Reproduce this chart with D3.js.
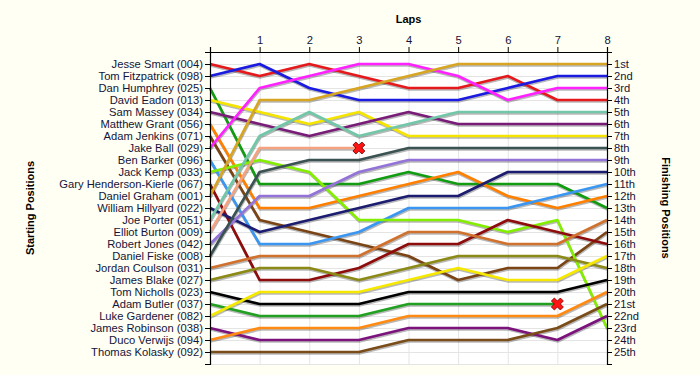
<!DOCTYPE html>
<html>
<head>
<meta charset="utf-8">
<script src="https://d3js.org/d3.v7.min.js"></script>
<style>
  body { margin: 0; background: #fffff3; }
  svg { display: block; font-family: "Liberation Sans", Arial, sans-serif; }
</style>
</head>
<body>
<div id="chart"></div>
<script>
// lap numbers (0 = grid)
var laps = [0, 1, 2, 3, 4, 5, 6, 7, 8];

// drivers in starting order
var drivers = [
  "Jesse Smart (004)", "Tom Fitzpatrick (098)", "Dan Humphrey (025)", "David Eadon (013)",
  "Sam Massey (034)", "Matthew Grant (056)", "Adam Jenkins (071)", "Jake Ball (029)",
  "Ben Barker (096)", "Jack Kemp (033)", "Gary Henderson-Kierle (067)", "Daniel Graham (001)",
  "William Hillyard (022)", "Joe Porter (051)", "Elliot Burton (009)", "Robert Jones (042)",
  "Daniel Fiske (008)", "Jordan Coulson (031)", "James Blake (027)", "Tom Nicholls (023)",
  "Adam Butler (037)", "Luke Gardener (082)", "James Robinson (038)", "Duco Verwijs (094)",
  "Thomas Kolasky (092)"
];

// position at each lap, one row per driver (shorter row = retired)
var positions = [
  [1, 2, 1, 2, 3, 3, 2, 4, 4],
  [2, 1, 3, 4, 4, 4, 3, 2, 2],
  [3, 11, 11, 11, 10, 11, 11, 11, 13],
  [4, 5, 6, 5, 7, 7, 7, 7, 7],
  [5, 6, 7, 6, 5, 6, 6, 6, 6],
  [6, 13, 13, 12, 11, 10, 12, 13, 12],
  [7, 14, 15, 16, 17, 19, 18, 18, 15],
  [8, 3, 2, 1, 1, 2, 4, 3, 3],
  [9, 16, 16, 15, 13, 13, 13, 12, 11],
  [10, 9, 10, 14, 14, 14, 15, 14, 23],
  [11, 19, 19, 18, 16, 16, 14, 15, 16],
  [12, 4, 4, 3, 2, 1, 1, 1, 1],
  [13, 15, 14, 13, 12, 12, 10, 10, 10],
  [14, 7, 5, 7, 6, 5, 5, 5, 5],
  [15, 8, 8, 8],
  [16, 12, 12, 10, 9, 9, 9, 9, 9],
  [17, 10, 9, 9, 8, 8, 8, 8, 8],
  [18, 17, 17, 17, 15, 15, 16, 16, 14],
  [19, 18, 18, 19, 18, 17, 17, 17, 18],
  [20, 21, 21, 21, 20, 20, 20, 20, 19],
  [21, 22, 22, 22, 21, 21, 21, 21],
  [22, 20, 20, 20, 19, 18, 19, 19, 17],
  [23, 24, 24, 24, 23, 23, 23, 24, 22],
  [24, 23, 23, 23, 22, 22, 22, 22, 20],
  [25, 25, 25, 25, 24, 24, 24, 23, 21]
];

var finishLabels = [
  "1st", "2nd", "3rd", "4th", "5th", "6th", "7th", "8th", "9th", "10th",
  "11th", "12th", "13th", "14th", "15th", "16th", "17th", "18th", "19th", "20th",
  "21st", "22nd", "23rd", "24th", "25th"
];

var palette = [
  "#e5191c", "#1a1ae0", "#129c12", "#f5e400", "#781c78", "#ff8000", "#7a4414", "#ff22ff",
  "#3a96f0", "#84ee00", "#8e0c0c", "#d7a521", "#1c1c70", "#72c7a8", "#f4a27f", "#9373d8",
  "#3b5252", "#d0712e", "#8c8a16", "#000000", "#22a022", "#f6e800", "#7c127c", "#ff8a14",
  "#7a4c18"
];

var W = 700, H = 375;
var x = d3.scaleLinear().domain([0, 8]).range([210, 607]);
var y = d3.scaleLinear().domain([0, 26]).range([52, 364]);
var rows = d3.range(1, 27);

var svg = d3.select("#chart").append("svg")
    .attr("width", W)
    .attr("height", H);

svg.append("rect")
    .attr("width", W).attr("height", H)
    .attr("fill", "#fffff3");

// plot background
svg.append("rect")
    .attr("x", x(0)).attr("y", y(0))
    .attr("width", x(8) - x(0)).attr("height", y(26) - y(0))
    .attr("fill", "#ffffff");

// grid
var grid = svg.append("g").attr("stroke", "#e4e4e4").attr("stroke-width", 1);
grid.selectAll(".vg").data(laps.slice(1, 8)).enter().append("line")
    .attr("x1", function(d) { return x(d) + 0.5; })
    .attr("x2", function(d) { return x(d) + 0.5; })
    .attr("y1", y(0)).attr("y2", y(26));
grid.selectAll(".hg").data(rows).enter().append("line")
    .attr("x1", x(0)).attr("x2", x(8))
    .attr("y1", function(d) { return y(d) + 0.5; })
    .attr("y2", function(d) { return y(d) + 0.5; });

var line = d3.line()
    .x(function(d, i) { return x(laps[i]); })
    .y(function(d) { return y(d); });

// shadows first, then coloured lines
var shadows = svg.append("g").attr("transform", "translate(0.5,1.5)");
shadows.selectAll("path").data(positions).enter().append("path")
    .attr("d", line)
    .attr("fill", "none")
    .attr("stroke", "#000")
    .attr("stroke-opacity", 0.28)
    .attr("stroke-width", 2.7)
    .attr("stroke-linejoin", "round");

svg.append("g").selectAll("path").data(positions).enter().append("path")
    .attr("d", line)
    .attr("fill", "none")
    .attr("stroke", function(d, i) { return palette[i]; })
    .attr("stroke-width", 2.7)
    .attr("stroke-linejoin", "round");

// retirements
var retired = positions.filter(function(p) { return p.length < laps.length; });
svg.append("g").selectAll("path").data(retired).enter().append("path")
    .attr("d", d3.symbol().type(d3.symbolCross).size(90))
    .attr("transform", function(d) {
      return "translate(" + x(laps[d.length - 1]) + "," + y(d[d.length - 1]) + ") rotate(45)";
    })
    .attr("fill", "#ff1414")
    .attr("stroke", "#7a0000")
    .attr("stroke-width", 0.8);

// axes
var leftAxis = d3.axisLeft(y).tickValues(rows).tickSize(5).tickPadding(2)
    .tickFormat(function(d) { return drivers[d - 1] || ""; });
var rightAxis = d3.axisRight(y).tickValues(rows).tickSize(5).tickPadding(2)
    .tickFormat(function(d) { return finishLabels[d - 1] || ""; });
var topAxis = d3.axisTop(x).tickValues(laps).tickSize(5).tickPadding(3)
    .tickFormat(function(d) { return d === 0 ? "" : d; });

function styleAxis(g) {
  g.select(".domain").attr("stroke", "#000").attr("stroke-width", 1.2);
  g.selectAll(".tick line").attr("stroke", "#000");
  g.selectAll(".tick text").attr("fill", "#14143a").attr("font-size", 11.2)
    .attr("font-family", "'Liberation Sans', Arial, sans-serif");
}

svg.append("g").attr("transform", "translate(" + x(0) + ",0)").call(leftAxis).call(styleAxis);
svg.append("g").attr("transform", "translate(" + x(8) + ",0)").call(rightAxis).call(styleAxis);
svg.append("g").attr("transform", "translate(0," + y(0) + ")").call(topAxis).call(styleAxis);

// titles
svg.append("text")
    .attr("x", x(4)).attr("y", 23)
    .attr("text-anchor", "middle")
    .attr("font-size", 11).attr("font-weight", "bold")
    .text("Laps");

svg.append("text")
    .attr("transform", "translate(34,208) rotate(-90)")
    .attr("text-anchor", "middle")
    .attr("font-size", 11).attr("font-weight", "bold")
    .text("Starting Positions");

svg.append("text")
    .attr("transform", "translate(662,208) rotate(90)")
    .attr("text-anchor", "middle")
    .attr("font-size", 11).attr("font-weight", "bold")
    .text("Finishing Positions");
</script>
</body>
</html>
